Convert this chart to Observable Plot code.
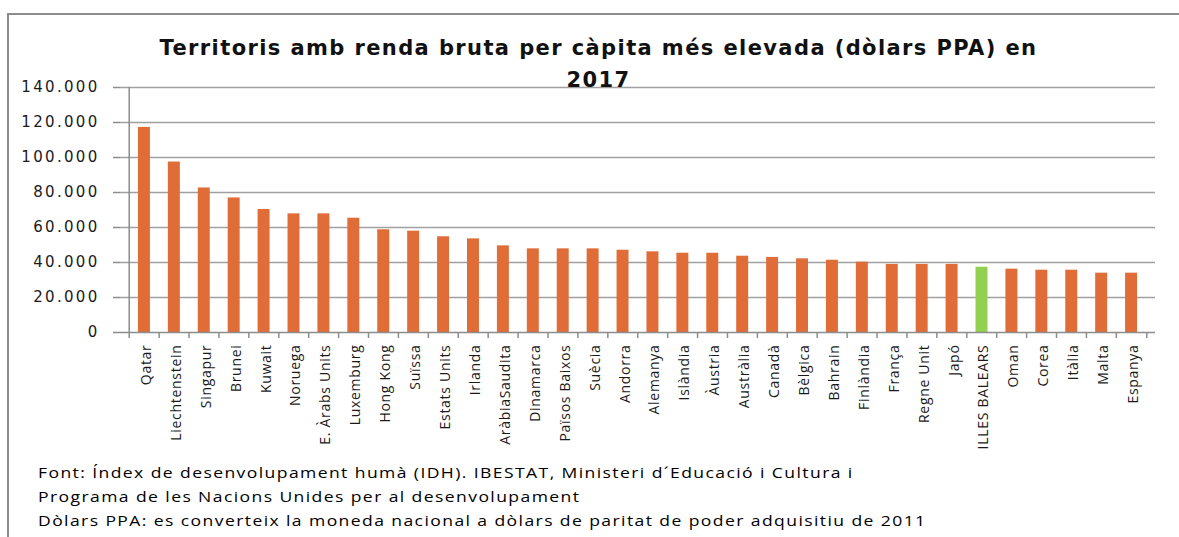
<!DOCTYPE html>
<html><head><meta charset="utf-8">
<script src="https://cdn.jsdelivr.net/npm/d3@7"></script>
<script src="https://cdn.jsdelivr.net/npm/@observablehq/plot@0.6"></script>
<style>
body{margin:0;background:#fff;}
#wrap{position:relative;width:1179px;height:537px;overflow:hidden;background:#fff;}
#frame{position:absolute;left:7px;top:13px;width:1200px;height:600px;border-top:2px solid #8c8c8c;border-left:2px solid #8c8c8c;box-sizing:border-box;}
#title{position:absolute;left:0;top:32px;width:1197px;text-align:center;font-family:"DejaVu Sans",sans-serif;font-weight:bold;font-size:21px;letter-spacing:1.4px;line-height:32px;color:#111;z-index:2;}
#chart{position:absolute;left:0;top:0;}
#caption{position:absolute;left:38px;top:460px;font-family:"Open Sans",sans-serif;font-size:15px;line-height:24px;color:#000;letter-spacing:1.2px;transform:scaleX(1.17);transform-origin:left top;white-space:nowrap;}
</style></head><body>
<div id="wrap">
<div id="frame"></div>
<div id="chart"></div>
<div id="title">Territoris amb renda bruta per càpita més elevada (dòlars PPA) en<br>2017</div>
<div id="caption">Font: Índex de desenvolupament humà (IDH). IBESTAT, Ministeri d´Educació i Cultura i<br>Programa de les Nacions Unides per al desenvolupament<br>Dòlars PPA: es converteix la moneda nacional a dòlars de paritat de poder adquisitiu de 2011</div>
</div>
<script>
const categories = ["Qatar","Liechtenstein","Singapur","Brunei","Kuwait","Noruega","E. Àrabs Units","Luxemburg","Hong Kong","Suïssa","Estats Units","Irlanda","AràbiaSaudita","Dinamarca","Països Baixos","Suècia","Andorra","Alemanya","Islàndia","Àustria","Austràlia","Canadà","Bèlgica","Bahrain","Finlàndia","França","Regne Unit","Japó","ILLES BALEARS","Oman","Corea","Itàlia","Malta","Espanya"];
const values = [117200,97400,82600,76900,70300,67800,67800,65300,58700,57900,54700,53500,49500,47800,47800,47800,47000,46100,45300,45300,43600,42900,42100,41300,40200,38900,38900,38900,37300,36200,35600,35600,33900,33900];
const highlighted = ["ILLES BALEARS"];
const yTicks = [0,20000,40000,60000,80000,100000,120000,140000];

const data = categories.map((c,i)=>({name:c, value:values[i], hi:highlighted.includes(c)}));
const W=1179, H=450, mL=120, mR=24, mT=87, mB=118;
const bw = (W-mL-mR)/categories.length;
const fmt = d => d3.format(",")(d).replace(/,/g,".");

const chart = Plot.plot({
  width:W, height:H, marginLeft:mL, marginRight:mR, marginTop:mT, marginBottom:mB,
  style:{background:"transparent", overflow:"visible"},
  x:{domain:categories, padding:0.6, align:0.5, axis:null},
  y:{domain:[0,140000], axis:null},
  color:{domain:[false,true], range:["#e06c37","#92d050"]},
  marks:[
    Plot.ruleY(yTicks.slice(1), {stroke:"#a0a0a0", strokeWidth:1.5}),
    Plot.barY(data, {x:"name", y:"value", fill:"hi"}),
    Plot.ruleY([0], {stroke:"#8c8c8c", strokeWidth:1.5}),
    Plot.ruleX([0], {x:()=>categories[0], y1:0, y2:140000, dx:-bw/2, stroke:"#8c8c8c", strokeWidth:1.5}),
    Plot.ruleX(categories, {x:d=>d, dx:-bw/2, insetTop:H-mT-mB, insetBottom:-6, stroke:"#8c8c8c", strokeWidth:1.5}),
    Plot.ruleX([categories[categories.length-1]], {x:d=>d, dx:bw/2, insetTop:H-mT-mB, insetBottom:-6, stroke:"#8c8c8c", strokeWidth:1.5}),
    Plot.axisY(yTicks, {label:null, tickSize:7, tickPadding:14, tickFormat:fmt, stroke:"#8c8c8c", strokeWidth:1.5, fill:"#1a1a1a", fontSize:15, fontFamily:"DejaVu Sans"}),
    Plot.axisX({label:null, tickSize:0, tickPadding:12, tickRotate:-90, fontSize:14, fontFamily:"Open Sans", fill:"#1a1a1a", dx:2})
  ]
});
const sel = d3.select(chart);
sel.selectAll("text").attr("fill","#1a1a1a");
sel.selectAll("g[aria-label='y-axis tick label']").style("letter-spacing","2.3px");
sel.selectAll("g[aria-label='x-axis tick label']").style("letter-spacing","0.7px");
document.getElementById("chart").appendChild(chart);
</script>
</body></html>
